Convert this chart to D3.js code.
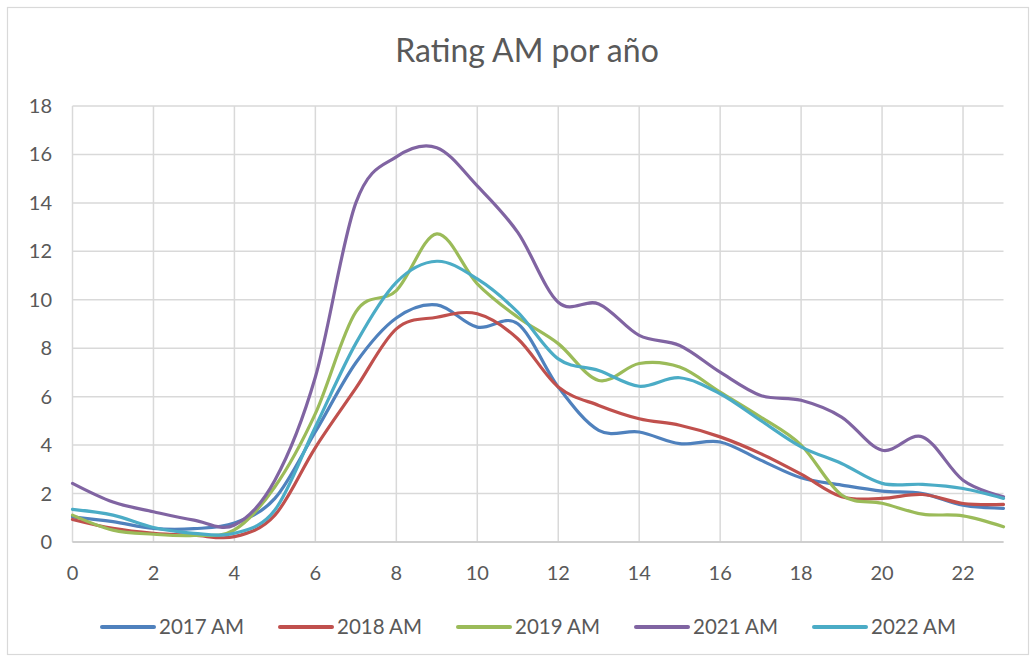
<!DOCTYPE html>
<html>
<head>
<meta charset="utf-8">
<script src="https://cdn.jsdelivr.net/npm/d3@7"></script>
<style>
  body { margin: 0; background: #fff; }
  text { font-family: Lato, "Open Sans", sans-serif; fill: #595959; }
</style>
</head>
<body>
<div id="chart"></div>
<script>
// hours of the day
const hours = [0,1,2,3,4,5,6,7,8,9,10,11,12,13,14,15,16,17,18,19,20,21,22,23];
const xTicks = [0,2,4,6,8,10,12,14,16,18,20,22];
const yTicks = [0,2,4,6,8,10,12,14,16,18];

// rating per hour
const r2017 = [1.04,0.84,0.56,0.55,0.78,1.8,4.55,7.4,9.25,9.79,8.87,9.01,6.4,4.61,4.54,4.06,4.13,3.38,2.65,2.35,2.1,2.0,1.52,1.39];
const r2018 = [0.93,0.56,0.36,0.28,0.22,1.11,3.9,6.35,8.8,9.28,9.42,8.39,6.4,5.64,5.09,4.82,4.34,3.65,2.8,1.87,1.8,1.96,1.59,1.55];
const r2019 = [1.11,0.49,0.32,0.27,0.5,2.28,5.3,9.5,10.38,12.72,10.66,9.28,8.19,6.67,7.37,7.22,6.19,5.16,4.0,1.94,1.6,1.15,1.08,0.63];
const r2021 = [2.42,1.65,1.25,0.9,0.7,2.55,6.81,14.0,15.9,16.28,14.7,12.78,9.9,9.83,8.53,8.11,7.01,6.05,5.85,5.16,3.79,4.34,2.55,1.87];
const r2022 = [1.35,1.11,0.6,0.36,0.36,1.32,4.75,8.2,10.72,11.59,10.86,9.49,7.56,7.08,6.43,6.78,6.12,5.02,3.93,3.24,2.42,2.38,2.21,1.8];

const seriesNames = ["2017 AM","2018 AM","2019 AM","2021 AM","2022 AM"];
const seriesValues = [r2017, r2018, r2019, r2021, r2022];
const colors = ["#4F81BD","#C0504D","#9BBB59","#8064A2","#4BACC6"];

const width = 1035, height = 661;
const svg = d3.select("#chart").append("svg").attr("width", width).attr("height", height);

// chart frame
svg.append("rect").attr("x", 7.5).attr("y", 7.5).attr("width", 1021).attr("height", 647)
   .attr("fill", "#fff").attr("stroke", "#d9d9d9").attr("stroke-width", 1.2);

const x = d3.scaleLinear().domain([0, 23]).range([72.5, 1003.5]);
const y = d3.scaleLinear().domain([0, 18]).range([542, 106]);

// grid
const g = svg.append("g");
g.selectAll(".hg").data(yTicks).enter().append("line")
  .attr("x1", x(0)).attr("x2", x(23))
  .attr("y1", d => y(d)).attr("y2", d => y(d))
  .attr("stroke", "#d9d9d9").attr("stroke-width", 1.5);
g.selectAll(".vg").data(xTicks).enter().append("line")
  .attr("x1", d => x(d)).attr("x2", d => x(d))
  .attr("y1", y(0)).attr("y2", y(18))
  .attr("stroke", "#d9d9d9").attr("stroke-width", 1.5);
// bottom axis line
g.append("line").attr("x1", x(0)).attr("x2", x(23)).attr("y1", y(0)).attr("y2", y(0))
  .attr("stroke", "#c8c8c8").attr("stroke-width", 1.5);

// axis labels
svg.selectAll(".yl").data(yTicks).enter().append("text")
  .attr("x", 52).attr("y", d => y(d)).attr("dy", "0.35em")
  .attr("text-anchor", "end").style("font-size", "20px").text(d => d);
svg.selectAll(".xl").data(xTicks).enter().append("text")
  .attr("x", d => x(d)).attr("y", 573).attr("dy", "0.35em")
  .attr("text-anchor", "middle").style("font-size", "20px").text(d => d);

// title
svg.append("text").attr("x", 527).attr("y", 62).attr("text-anchor", "middle")
  .style("font-size", "32px").style("font-weight", 400).text("Rating AM por año");

// lines
const line = d3.line()
  .x((d, i) => x(hours[i]))
  .y(d => y(d))
  .curve(d3.curveCardinal.tension(0));

svg.selectAll(".series").data(seriesValues).enter().append("path")
  .attr("d", d => line(d))
  .attr("fill", "none")
  .attr("stroke", (d, i) => colors[i])
  .attr("stroke-width", 3.2)
  .attr("stroke-linejoin", "round")
  .attr("stroke-linecap", "round");

// legend
const legend = svg.selectAll(".leg").data(seriesNames).enter().append("g")
  .attr("transform", (d, i) => `translate(${102 + i * 178},627)`);
legend.append("line").attr("x1", 0).attr("x2", 52).attr("y1", 0).attr("y2", 0)
  .attr("stroke", (d, i) => colors[i]).attr("stroke-width", 4).attr("stroke-linecap", "round");
legend.append("text").attr("x", 57).attr("y", 0).attr("dy", "0.35em")
  .style("font-size", "20.5px").text(d => d);
</script>
</body>
</html>
